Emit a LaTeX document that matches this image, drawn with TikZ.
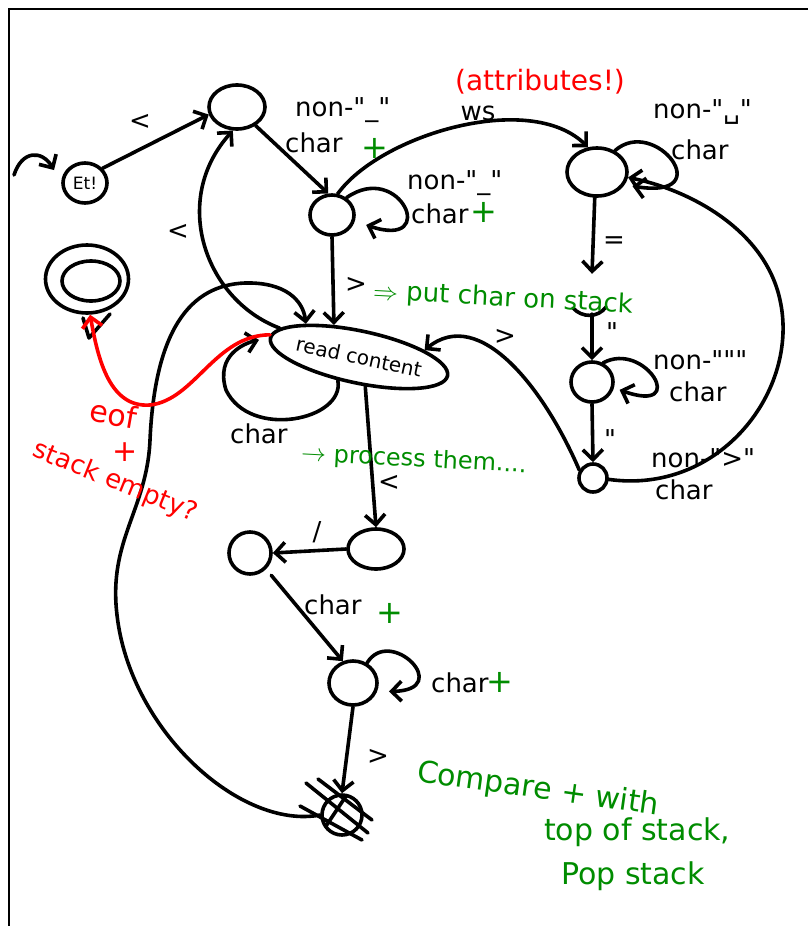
\documentclass[tikz,border=0pt]{standalone}
\usepackage{fontspec}
\setmainfont{DejaVu Sans}[Ligatures=TeXOff]
\usetikzlibrary{arrows.meta,shapes.geometric,calc}
\definecolor{hgreen}{RGB}{0,140,0}
\definecolor{hred}{RGB}{255,0,0}
\newcommand{\myfs}[1]{\fontsize{#1}{#1}\selectfont}
\tikzset{
  st/.style={draw, ellipse, line width=3.6pt, inner sep=0pt},
  arr/.style={line width=3.6pt, line cap=round, line join=round, -{Straight Barb[length=10pt,width=20pt]}},
  con/.style={line width=3.6pt, line cap=round},
  lb/.style={font=\myfs{26}, inner sep=1pt},
  gr/.style={text=hgreen},
  rd/.style={text=hred},
}
\begin{document}
\begin{tikzpicture}[x=1pt,y=-1pt]
\path[use as bounding box] (0,0) rectangle (808,926);
\draw[line width=2pt] (9,926) -- (9,9) -- (808,9);

% states
\node[st, minimum width=44pt, minimum height=40pt, font=\myfs{17}] (S0) at (85,183) {Et!};
\node[st, minimum width=56pt, minimum height=44pt] (A) at (237,107) {};
\node[st, minimum width=44pt, minimum height=40pt] (B) at (332,215) {};
\node[st, minimum width=60pt, minimum height=48pt] (C) at (597,172) {};
\node[circle, minimum size=40pt, inner sep=0pt] (S) at (592,294) {};
\node[st, minimum width=42pt, minimum height=40pt] (D) at (592,382) {};
\node[st, circle, minimum size=28pt] (E) at (593,478) {};
\node[st, minimum width=152pt, minimum height=52pt, rotate=-12, font=\myfs{20}] (RC) at (359,357) {read content};
\node[st, minimum width=56pt, minimum height=40pt] (F) at (376,549) {};
\node[st, minimum width=42pt, minimum height=42pt] (G) at (250,553) {};
\node[st, minimum width=48pt, minimum height=44pt] (H) at (353,683) {};
\node[st, circle, minimum size=40pt] (X) at (342,815) {};
\node[st, minimum width=83pt, minimum height=68pt] (Fin) at (87,279) {};
\node[st, minimum width=58pt, minimum height=40pt] (Fin2) at (91,281) {};

% partially hidden state under the text
\draw[con] (573,308) .. controls (582,318) and (598,318) .. (606,307);
% crossed-out final compare state
\draw[con] (306,783) -- (368,833);
\draw[con] (300,806) -- (362,840);
\draw[con] (318,779) -- (372,820);
\draw[con] (326,826) -- (346,796);
% tick under the accept state
\draw[con, line join=round] (83,318) -- (89,338) -- (110,314);

% initial arrow
\coordinate (i0) at (14,175);
\coordinate (i1) at (54,170);
\draw[arr] (i0) .. controls (22,150) and (42,150) .. (i1);

% edges
\draw[arr] (S0.40) -- (A.195);
\draw[arr] (A.-45) -- (B.100);
\draw[arr, shorten >=12pt] (B.50) .. controls (400,160) and (440,250) .. (B.-15);
\draw[arr] (B.75) .. controls (380,135) and (530,90) .. (C.110);
\draw[arr, shorten >=8pt] (C.50) .. controls (655,115) and (720,200) .. (C.-25);
\draw[arr] (C.-95) -- (S.north);
\draw[arr] (S.south) -- (D.north);
\draw[arr, shorten >=6pt] (D.60) .. controls (645,340) and (690,415) .. (D.-15);
\draw[arr] (D.south) -- (E.north);
\draw[arr] (E.-5) .. controls (720,495) and (800,390) .. (780,300) .. controls (765,230) and (690,190) .. (C.-10);
\draw[arr] (E.150) .. controls (545,390) and (480,305) .. (RC.18);
\draw[arr] (B.south) -- (RC.140);
\draw[arr] (RC.172) .. controls (205,300) and (170,200) .. (A.-100);
\draw[arr] (X.west) .. controls (240,830) and (130,730) .. (117,615)
   .. controls (108,540) and (147,510) .. (150,440)
   .. controls (155,330) and (190,285) .. (245,283)
   .. controls (285,282) and (303,300) .. (RC.160);
\draw[arr, shorten >=10pt] (RC.-120) .. controls (345,420) and (250,440) .. (226,390)
   .. controls (215,355) and (245,343) .. (RC.180);
\draw[arr, draw=hred] (RC.178) .. controls (215,335) and (195,400) .. (150,405)
   .. controls (110,408) and (98,360) .. (Fin.-85);
\draw[arr] (RC.-66) -- (F.north);
\draw[arr] (F.west) -- (G.east);
\draw[arr, shorten <=8pt] (G.-45) -- (H.115);
\draw[arr, shorten >=12pt] (H.55) .. controls (390,625) and (455,690) .. (H.-20);
\draw[arr] (H.south) -- (X.north);

% labels
\node[lb] (l1) at (140,122) {<};
\node[lb, anchor=west] (l2) at (294,110) {non-"\_"};
\node[lb, anchor=west] (l3) at (284,143) {char};
\node[lb, gr, font=\myfs{32}] (l4) at (375,148) {+};
\node[lb, anchor=west] (l5) at (406,183) {non-"\_"};
\node[lb, anchor=west] (l6) at (410,214) {char};
\node[lb, gr, font=\myfs{32}] (l7) at (484,212) {+};
\node[lb] (l8) at (478,113) {ws};
\node[lb, rd, font=\myfs{28}] (l9) at (540,82) {(attributes!)};
\node[lb, anchor=west] (l10) at (652,112) {non-"␣"};
\node[lb, anchor=west] (l11) at (670,150) {char};
\node[lb] (l12) at (614,243) {=};
\node[lb] (l13) at (356,285) {>};
\node[lb, gr, anchor=west, rotate=-3, font=\myfs{26}] (l14) at (372,292) {$\Rightarrow$ put char on stack};
\node[lb] (l15) at (612,332) {"};
\node[lb, anchor=west] (l16) at (652,360) {non-"""};
\node[lb, anchor=west] (l17) at (668,392) {char};
\node[lb] (l18) at (610,439) {"};
\node[lb, anchor=west] (l19) at (650,458) {non-">"};
\node[lb, anchor=west] (l20) at (654,490) {char};
\node[lb] (l21) at (505,337) {>};
\node[lb] (l22) at (178,232) {<};
\node[lb, anchor=west] (l23) at (229,434) {char};
\node[lb, gr, anchor=west, rotate=-3, font=\myfs{24}] (l24) at (300,454) {$\rightarrow$ process them....};
\node[lb] (l25) at (389,483) {<};
\node[lb] (l26) at (317,532) {/};
\node[lb, anchor=west] (l27) at (303,605) {char};
\node[lb, gr, font=\myfs{32}] (l28) at (390,613) {+};
\node[lb, anchor=west] (l29) at (430,683) {char};
\node[lb, gr, font=\myfs{32}] (l30) at (500,682) {+};
\node[lb] (l31) at (378,757) {>};
\node[lb, gr, font=\myfs{30}, rotate=-8] (l32) at (538,790) {Compare + with};
\node[lb, gr, font=\myfs{30}, anchor=west] (l33) at (543,832) {top of stack,};
\node[lb, gr, font=\myfs{30}, anchor=west] (l34) at (560,876) {Pop stack};
\node[lb, rd, font=\myfs{30}, rotate=-10] (l35) at (114,414) {eof};
\node[lb, rd, font=\myfs{30}] (l36) at (125,452) {+};
\node[lb, rd, font=\myfs{26}, rotate=-22] (l37) at (115,482) {stack empty?};
\end{tikzpicture}
\end{document}
